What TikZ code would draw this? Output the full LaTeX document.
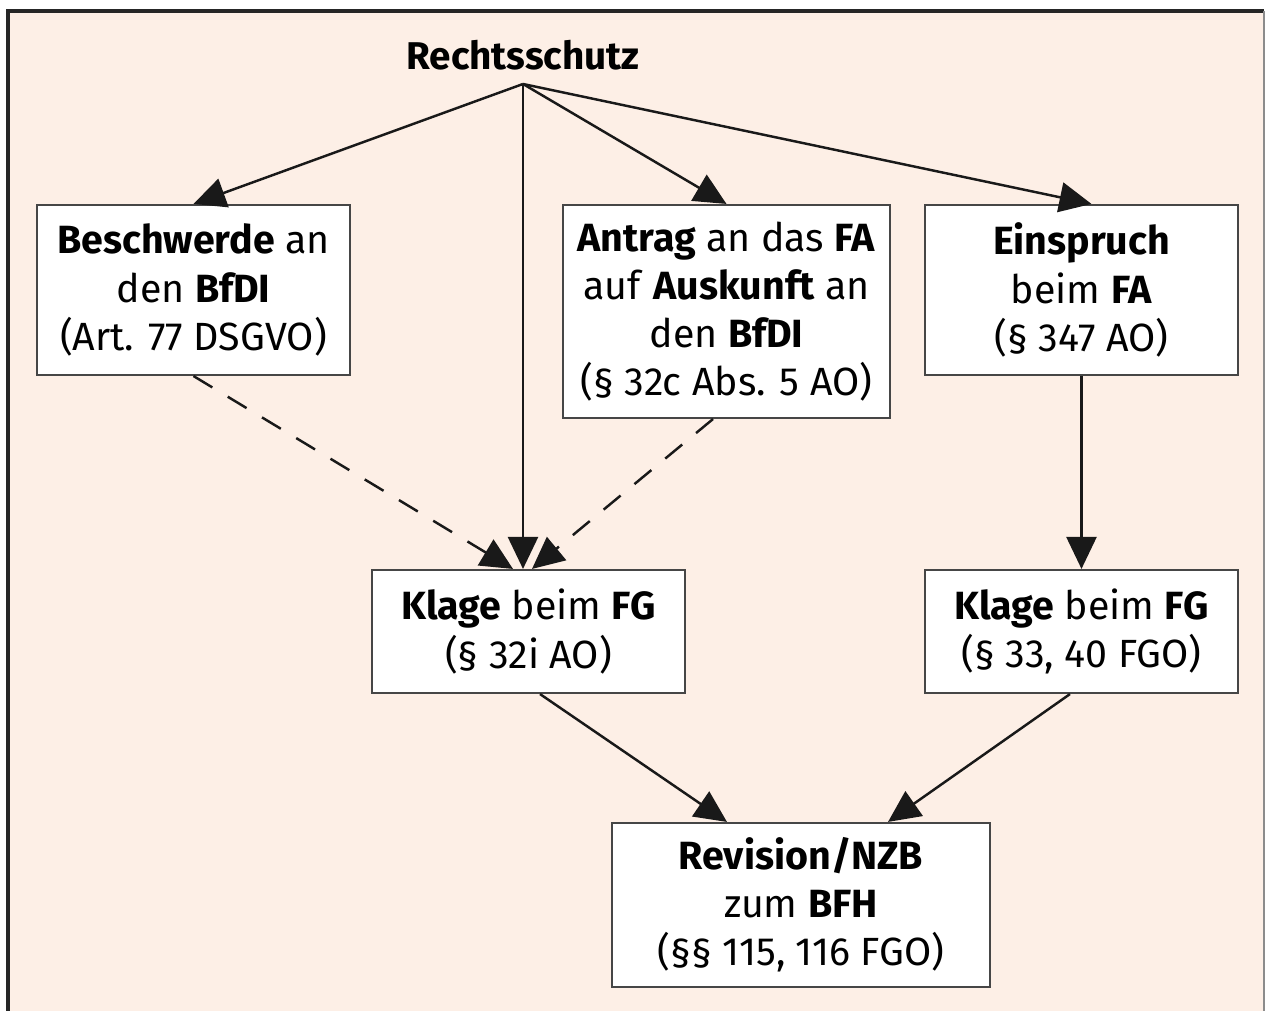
\documentclass[tikz,border=0pt]{standalone}
\usepackage{fontspec}
\setmainfont{Fira Sans}
\usetikzlibrary{arrows.meta}
\definecolor{peach}{RGB}{253,239,230}
\definecolor{rahmen}{RGB}{70,70,70}

\begin{document}
\begin{tikzpicture}[
    box/.style={draw=rahmen, line width=0.6pt, fill=white, align=center, inner sep=0pt,
                font=\fontsize{11.2}{13.7}\selectfont},
    >={Triangle[length=3.2mm,width=3mm]},
    pfeil/.style={->, line width=0.7pt, draw=black!90}
  ]
\useasboundingbox (0,0) rectangle (12.66,-10.11);
\fill[peach] (0.08,-0.11) rectangle (12.64,-10.11);
\draw[line width=1pt, black!85] (0.08,-10.11) -- (0.08,-0.11) -- (12.64,-0.11);
\draw[line width=0.8pt, black!45] (12.64,-0.11) -- (12.64,-10.11);

\node[font=\fontsize{11}{13.7}\selectfont\bfseries] (rs) at (5.23,-0.55) {Rechtsschutz};
\coordinate (start) at (5.23,-0.84);

\node[box, minimum width=3.13cm, minimum height=1.70cm] (bfdi) at (1.935,-2.90)
    {\textbf{Beschwerde} an\\ den \textbf{BfDI}\\ (Art. 77 DSGVO)};
\node[box, minimum width=3.27cm, minimum height=2.13cm] (antrag) at (7.265,-3.115)
    {\textbf{Antrag} an das \textbf{FA}\\ auf \textbf{Auskunft} an\\ den \textbf{BfDI}\\ (§ 32c Abs. 5 AO)};
\node[box, minimum width=3.13cm, minimum height=1.70cm] (einspruch) at (10.815,-2.90)
    {\textbf{Einspruch}\\ beim \textbf{FA}\\ (§ 347 AO)};
\node[box, minimum width=3.13cm, minimum height=1.23cm] (klagei) at (5.285,-6.315)
    {\textbf{Klage} beim \textbf{FG}\\ (§ 32i AO)};
\node[box, minimum width=3.13cm, minimum height=1.23cm] (klagefgo) at (10.815,-6.315)
    {\textbf{Klage} beim \textbf{FG}\\ (§ 33, 40 FGO)};
\node[box, minimum width=3.78cm, minimum height=1.64cm] (bfh) at (8.01,-9.05)
    {\textbf{Revision/NZB}\\ zum \textbf{BFH}\\ (§§ 115, 116 FGO)};

\draw[pfeil] (start) -- (bfdi.north);
\draw[pfeil] (start) -- (antrag.north);
\draw[pfeil] (start) -- ([xshift=0.1cm]einspruch.north);
\draw[pfeil] (start) -- (start |- klagei.north);
\draw[pfeil, dash pattern=on 2.2mm off 1.8mm] (bfdi.south) -- ([xshift=-0.155cm]klagei.north);
\draw[pfeil, dash pattern=on 2.2mm off 1.8mm] ([xshift=-0.135cm]antrag.south) -- ([xshift=0.035cm]klagei.north);
\draw[pfeil] (einspruch.south) -- (klagefgo.north);
\draw[pfeil] ([xshift=0.115cm]klagei.south) -- ([xshift=-0.74cm]bfh.north);
\draw[pfeil] ([xshift=-0.115cm]klagefgo.south) -- ([xshift=0.87cm]bfh.north);
\end{tikzpicture}
\end{document}
